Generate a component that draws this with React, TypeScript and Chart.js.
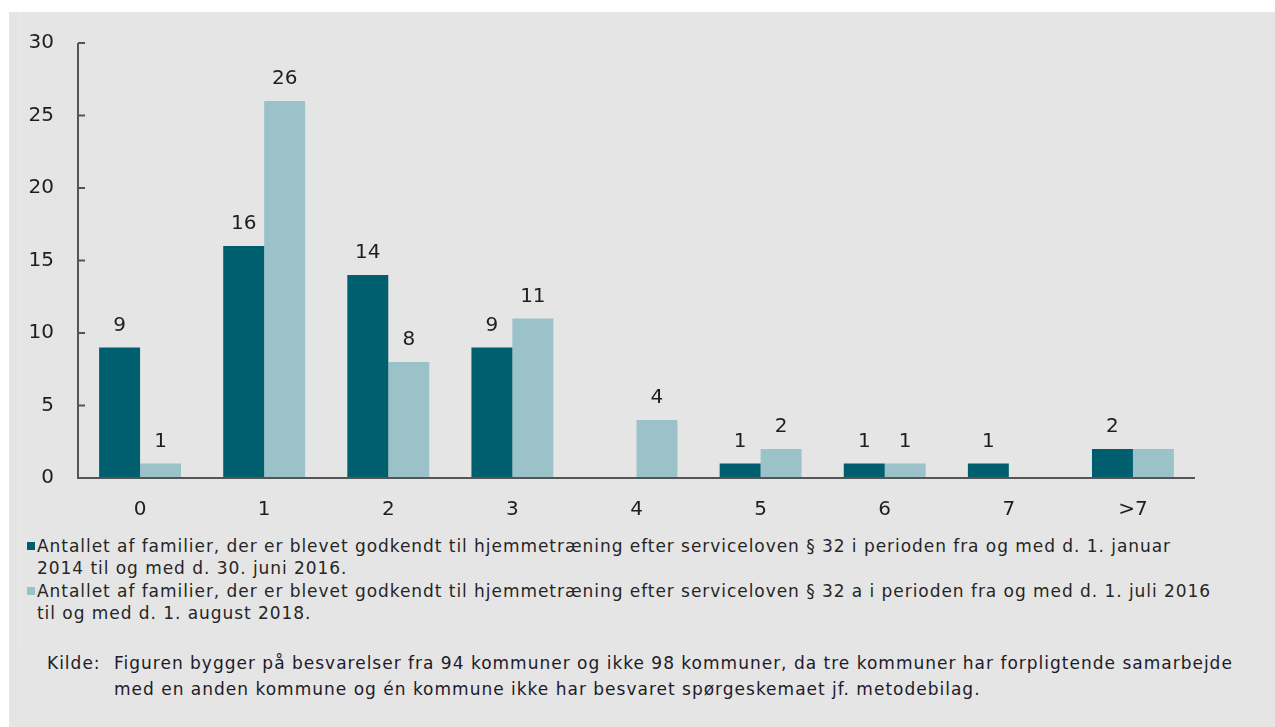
import React, { useEffect, useRef } from "react";
import { Chart, registerables } from "chart.js";

Chart.register(...registerables);

const categories = ["0", "1", "2", "3", "4", "5", "6", "7", ">7"];
const series2014 = [9, 16, 14, 9, null, 1, 1, 1, 2];
const series2016 = [1, 26, 8, 11, 4, 2, 1, null, 2];
const labels2014 = [9, 16, 14, 9, null, 1, 1, 1, 2];
const labels2016 = [1, 26, 8, 11, 4, 2, 1, null, null];
const yTicks = [0, 5, 10, 15, 20, 25, 30];

const legend1 = [
  "Antallet af familier, der er blevet godkendt til hjemmetræning efter serviceloven § 32 i perioden fra og med d. 1. januar",
  "2014 til og med d. 30. juni 2016.",
];
const legend2 = [
  "Antallet af familier, der er blevet godkendt til hjemmetræning efter serviceloven § 32 a i perioden fra og med d. 1. juli 2016",
  "til og med d. 1. august 2018.",
];
const sourceLabel = "Kilde:";
const sourceLines = [
  "Figuren bygger på besvarelser fra 94 kommuner og ikke 98 kommuner, da tre kommuner har forpligtende samarbejde",
  "med en anden kommune og én kommune ikke har besvaret spørgeskemaet jf. metodebilag.",
];

const DARK = "#005f6e";
const LIGHT = "#9cc2c9";
const FONT = "'DejaVu Sans', Verdana, sans-serif";

export default function App() {
  const ref = useRef<HTMLCanvasElement | null>(null);

  useEffect(() => {
    const labelSets = [labels2014, labels2016];
    const overlay = {
      id: "overlay",
      afterDatasetsDraw(chart: any) {
        const { ctx, chartArea } = chart;
        const ys = chart.scales.y;
        ctx.save();
        ctx.strokeStyle = "#555";
        ctx.lineWidth = 2;
        ctx.beginPath();
        ctx.moveTo(chartArea.left, ys.getPixelForValue(30));
        ctx.lineTo(chartArea.left, chartArea.bottom);
        ctx.lineTo(chartArea.right, chartArea.bottom);
        ctx.stroke();
        ys.ticks.forEach((t: any) => {
          const y = ys.getPixelForValue(t.value);
          ctx.beginPath();
          ctx.moveTo(chartArea.left, y);
          ctx.lineTo(chartArea.left + 7, y);
          ctx.stroke();
        });
        ctx.fillStyle = "#1e1e1e";
        ctx.font = `20px ${FONT}`;
        ctx.textAlign = "center";
        ctx.textBaseline = "middle";
        labelSets.forEach((arr, i) => {
          const meta = chart.getDatasetMeta(i);
          meta.data.forEach((bar: any, j: number) => {
            const v = arr[j];
            if (v == null) return;
            ctx.fillText(String(v), bar.x, bar.y - 22);
          });
        });
        ctx.restore();
      },
    };

    const chart = new Chart(ref.current as HTMLCanvasElement, {
      type: "bar",
      data: {
        labels: categories,
        datasets: [
          { label: legend1.join(" "), data: series2014 as any, backgroundColor: DARK },
          { label: legend2.join(" "), data: series2016 as any, backgroundColor: LIGHT },
        ],
      },
      options: {
        animation: false,
        responsive: false,
        maintainAspectRatio: false,
        layout: { padding: { left: 8, right: 80, top: 43, bottom: 0 } },
        datasets: { bar: { categoryPercentage: 0.66, barPercentage: 1 } },
        plugins: { legend: { display: false }, tooltip: { enabled: false } },
        scales: {
          x: {
            grid: { display: false },
            border: { display: false },
            ticks: { color: "#1e1e1e", font: { family: FONT, size: 20 }, padding: 12 },
            afterFit: (s: any) => {
              s.height = 52;
            },
          },
          y: {
            min: 0,
            max: 30,
            afterBuildTicks: (s: any) => {
              s.ticks = yTicks.map((v) => ({ value: v }));
            },
            grid: { display: false },
            border: { display: false },
            ticks: { color: "#1e1e1e", font: { family: FONT, size: 20 }, padding: 16 },
            afterFit: (s: any) => {
              s.width = 70;
            },
          },
        },
      },
      plugins: [overlay],
    });
    return () => chart.destroy();
  }, []);

  const textStyle: React.CSSProperties = {
    fontFamily: FONT,
    fontSize: 17,
    color: "#262626",
    letterSpacing: "0.95px",
    whiteSpace: "nowrap",
    lineHeight: "22px",
  };

  return (
    <div style={{ position: "fixed", left: 0, top: 0, width: 1275, height: 727, background: "#fff", overflow: "hidden" }}>
      <div style={{ position: "absolute", left: 9, top: 12, right: 0, bottom: 0, background: "#e5e5e5" }} />
      <div style={{ position: "absolute", left: 20, top: 12, width: 1, height: 633, background: "#ececec" }} />
      <canvas ref={ref} width={1275} height={530} style={{ position: "absolute", left: 0, top: 0, width: 1275, height: 530 }} />
      <div style={{ position: "absolute", left: 27, top: 535, ...textStyle }}>
        <div style={{ position: "relative", paddingLeft: 10 }}>
          <span style={{ position: "absolute", left: 0, top: 7, width: 8, height: 8, background: DARK }} />
          {legend1[0]}
          <br />
          {legend1[1]}
        </div>
        <div style={{ position: "relative", paddingLeft: 10, marginTop: 1 }}>
          <span style={{ position: "absolute", left: 0, top: 7, width: 8, height: 8, background: LIGHT }} />
          {legend2[0]}
          <br />
          {legend2[1]}
        </div>
      </div>
      <div style={{ position: "absolute", left: 47, top: 650, ...textStyle, lineHeight: "26px", letterSpacing: "1px", color: "#221a2a" }}>
        <span style={{ position: "absolute", left: 0, top: 0 }}>{sourceLabel}</span>
        <div style={{ marginLeft: 67 }}>
          {sourceLines[0]}
          <br />
          {sourceLines[1]}
        </div>
      </div>
    </div>
  );
}
